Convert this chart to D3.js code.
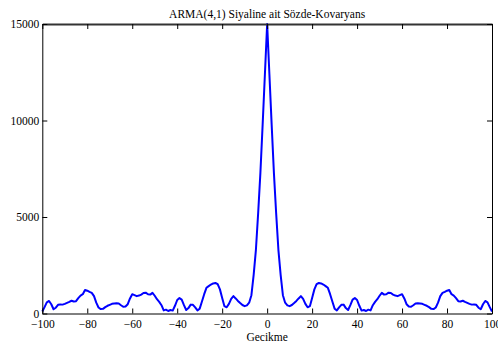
<!DOCTYPE html>
<html>
<head>
<meta charset="utf-8">
<script src="https://cdn.jsdelivr.net/npm/d3@7"></script>
<style>
  body { margin: 0; background: #fff; }
  svg text { font-family: "Liberation Serif", "Times New Roman", serif !important; }
</style>
</head>
<body>
<div id="chart"></div>
<script>
// pseudo-covariance for lags 0..100 (symmetric, mirrored for negative lags)
var lagsPos = d3.range(0, 101);
var covPos = [15000, 12400, 9800, 7300, 5200, 3300, 2000, 950, 560, 420,
  380, 440, 540, 650, 780, 900, 760, 500, 320, 380,
  800, 1250, 1520, 1580, 1560, 1500, 1420, 1330, 1000, 620,
  250, 160, 320, 450, 460, 280, 180, 430, 720, 800,
  700, 400, 150, 180, 130, 200, 160, 430, 600, 740,
  920, 1070, 980, 1000, 1080, 1060, 980, 930, 900, 950,
  1000, 780, 480, 360, 350, 430, 520, 530, 520, 500,
  450, 400, 330, 240, 230, 310, 560, 900, 1070, 1120,
  1180, 1220, 1000, 930, 800, 640, 620, 660, 600, 550,
  500, 460, 470, 450, 300, 220, 480, 650, 580, 330, 100];
var xTicks = [-100, -80, -60, -40, -20, 0, 20, 40, 60, 80, 100];
var yTicks = [0, 5000, 10000, 15000];
var title = "ARMA(4,1) Siyaline ait Sözde-Kovaryans";
var xLabel = "Gecikme";

var data = [];
for (var i = lagsPos.length - 1; i > 0; i--) data.push({lag: -lagsPos[i], v: covPos[i]});
for (var j = 0; j < lagsPos.length; j++) data.push({lag: lagsPos[j], v: covPos[j]});

var baseWidth = 498, baseHeight = 347;
var margin = {top: 24, right: 6, bottom: 33.5, left: 42.3},
    width = baseWidth - margin.left - margin.right,
    height = baseHeight - margin.top - margin.bottom;

var svg = d3.select("#chart")
    .append("svg")
    .attr("width", baseWidth)
    .attr("height", baseHeight)
    .append("g")
    .attr("transform", "translate(" + margin.left + "," + margin.top + ")");

var x = d3.scaleLinear().domain([-100, 100]).range([0, width]);
var y = d3.scaleLinear().domain([0, 15000]).range([height, 0]);

// line
svg.append("path")
    .datum(data)
    .attr("fill", "none")
    .attr("stroke", "#0000ff")
    .attr("stroke-width", 2)
    .attr("stroke-linejoin", "round")
    .attr("d", d3.line().x(d => x(d.lag)).y(d => y(d.v)));

// axes, MATLAB style: ticks inward on all sides
function styleAxis(g) {
    g.attr("font-family", "Liberation Serif").attr("font-size", 11.5);
    g.select(".domain").attr("stroke", "#000").attr("stroke-width", 1);
    g.selectAll(".tick line").attr("stroke", "#000");
    g.selectAll(".tick text").attr("fill", "#000");
}

svg.append("g")
    .attr("transform", "translate(0," + height + ")")
    .call(d3.axisBottom(x).tickValues(xTicks).tickSizeInner(-5).tickSizeOuter(0).tickPadding(6).tickFormat(d3.format("d")))
    .call(styleAxis);

svg.append("g")
    .call(d3.axisTop(x).tickValues(xTicks).tickSizeInner(-5).tickSizeOuter(0).tickFormat(""))
    .call(styleAxis)
    .select(".domain").attr("stroke", "#333").attr("stroke-width", 2);

svg.append("g")
    .call(d3.axisLeft(y).tickValues(yTicks).tickSizeInner(-5).tickSizeOuter(0).tickPadding(3).tickFormat(d3.format("d")))
    .call(styleAxis);

svg.append("g")
    .attr("transform", "translate(" + width + ",0)")
    .call(d3.axisRight(y).tickValues(yTicks).tickSizeInner(-5).tickSizeOuter(0).tickFormat(""))
    .call(styleAxis);

// title and x label
svg.append("text")
    .attr("text-anchor", "middle")
    .attr("x", width / 2)
    .attr("y", -6)
    .style("font-size", "11.5px")
    .text(title);

svg.append("text")
    .attr("text-anchor", "middle")
    .attr("x", x(0))
    .attr("y", height + 27)
    .style("font-size", "11.5px")
    .text(xLabel);
</script>
</body>
</html>
